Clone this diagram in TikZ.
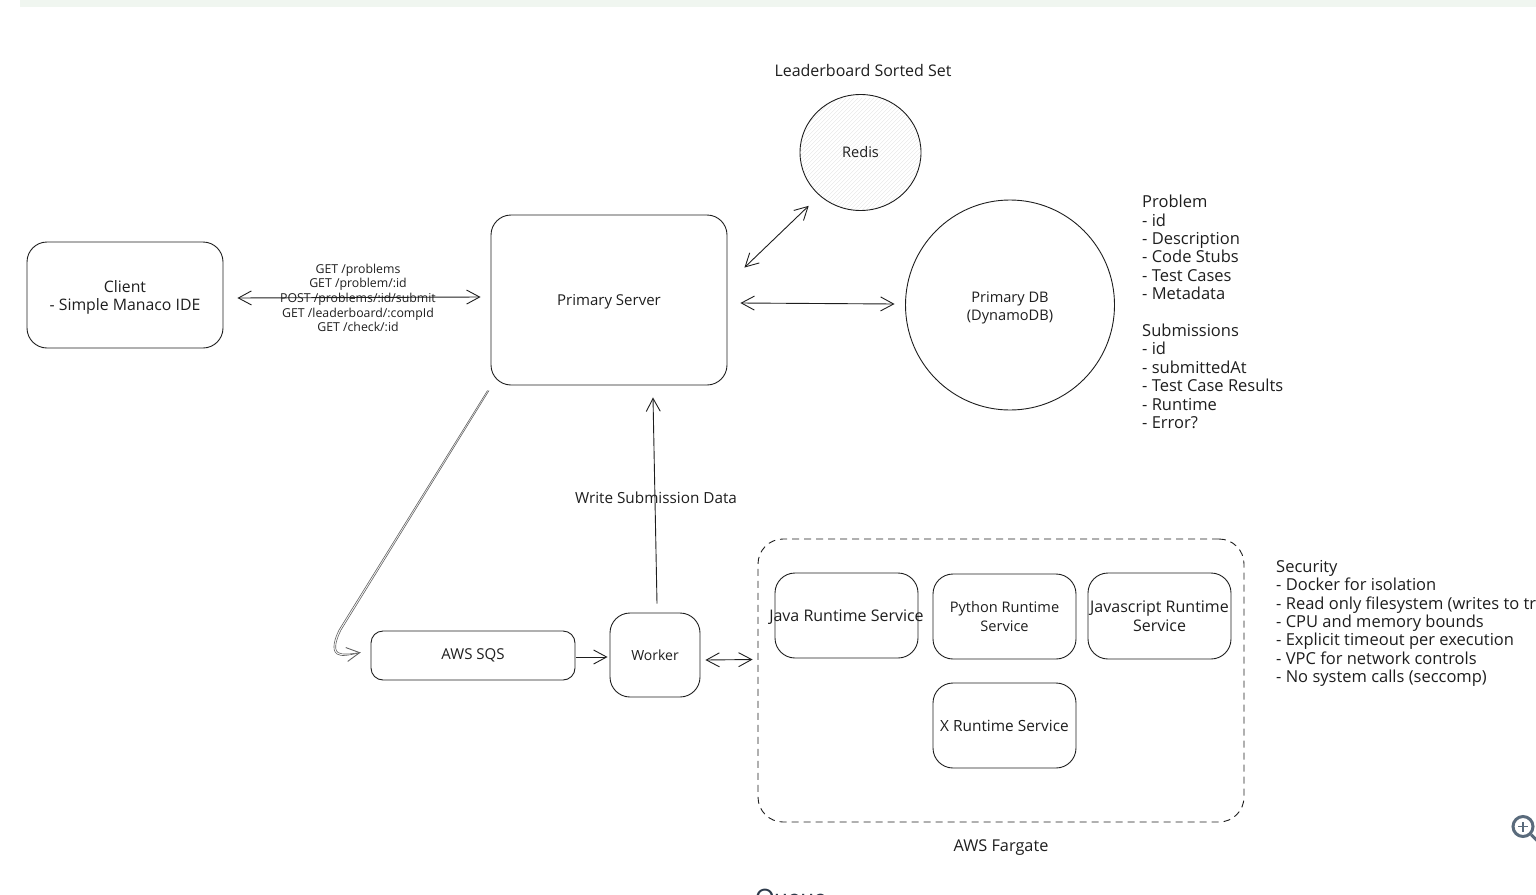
\documentclass[tikz,border=0pt]{standalone}
\usepackage{fontspec}
\setmainfont{Open Sans}
\newfontfamily\uifont{Lato}
\usetikzlibrary{arrows.meta,calc,shapes.geometric}
\definecolor{ink}{HTML}{1E1E1E}
\definecolor{strip}{HTML}{F0F6F0}
\definecolor{uiblue}{HTML}{5A6B7C}
\definecolor{uidark}{HTML}{2D3A4A}
\tikzset{
  fs/.style={font=\fontsize{#1}{18.4}\selectfont},
  base/.style={draw=ink,line width=.9pt,inner sep=0pt,text=ink,align=center,fs=14.6},
  sbox/.style={base,rectangle,rounded corners=20pt},
  smallbox/.style={base,rectangle,rounded corners=12pt},
  dashbox/.style={base,rectangle,rounded corners=25pt,dash pattern=on 7pt off 5pt},
  roundn/.style={base,ellipse},
  txt/.style={inner sep=0pt,text=ink,align=center,fs=16},
  notes/.style={inner sep=0pt,text=ink,align=left,anchor=north west,fs=16.5},
  conn/.style={draw=ink,line width=.9pt,{Straight Barb[length=13pt,width=14pt,line width=.9pt]}-{Straight Barb[length=13pt,width=14pt,line width=.9pt]}},
  conr/.style={draw=ink,line width=.9pt,-{Straight Barb[length=13pt,width=14pt,line width=.9pt]}},
}
\begin{document}
\begin{tikzpicture}[x=1pt,y=-1pt]
\useasboundingbox (0,0) rectangle (1536,894);
\fill[strip] (20,0) rectangle (1536,7);

\node[sbox,fs=15.8,minimum width=196pt,minimum height=106pt] (client) at (125,295) {\rule{0pt}{17pt}Client\\- Simple Manaco IDE};
\node[sbox,fs=15,minimum width=236pt,minimum height=170pt] (server) at (609,300) {\raisebox{-5.5pt}[0pt][0pt]{Primary Server}};
\node[roundn,minimum width=121pt,minimum height=116pt,
  path picture={\foreach \i in {-120,-116,...,120}{\draw[gray!22,line width=.4pt] (\i-60,60) -- (\i+60,-60);}}] (redis) at (860.5,152.5) {Redis};
\node[roundn,minimum width=209pt,minimum height=210pt] (db) at (1010,305) {\rule{0pt}{17pt}Primary DB\\(DynamoDB)};
\node[smallbox,fs=15,minimum width=204pt,minimum height=49pt] (sqs) at (473,655.5) {AWS SQS};
\node[sbox,fs=14,minimum width=90pt,minimum height=84pt] (worker) at (655,655) {Worker};
\node[dashbox,minimum width=486pt,minimum height=283pt] (fargate) at (1001,680.5) {};
\node[sbox,fs=16,minimum width=143pt,minimum height=85pt] (java) at (846.5,615.5) {\raisebox{-5.5pt}[0pt][0pt]{\makebox[0pt]{Java Runtime Service}}};
\node[sbox,minimum width=143pt,minimum height=85pt] (python) at (1004.5,616.5) {Python Runtime\\Service};
\node[sbox,fs=16,minimum width=143pt,minimum height=86pt] (js) at (1159.5,616) {Javascript Runtime\\Service};
\node[sbox,fs=15.4,minimum width=143pt,minimum height=85pt] (xrt) at (1004.5,725.5) {X Runtime Service};

\node[txt] (lbset) at (863,70.5) {Leaderboard Sorted Set};
\node[txt,fs=16.3] (fglabel) at (1001,848) {AWS Fargate};
\node[txt,fs=15.3] (wlabel) at (656,497.5) {Write Submission Data};
\node[txt,font=\fontsize{12.3}{14.6}\selectfont] (api) at (358,298) {GET /problems\\GET /problem/:id\\POST /problems/:id/submit\\GET /leaderboard/:compId\\GET /check/:id};
\node[notes] (problem) at (1142,195) {Problem\\- id\\- Description\\- Code Stubs\\- Test Cases\\- Metadata\\[18.4pt]Submissions\\- id\\- submittedAt\\- Test Case Results\\- Runtime\\- Error?};
\node[notes] (security) at (1276,560) {Security\\- Docker for isolation\\- Read only filesystem (writes to tr\\- CPU and memory bounds\\- Explicit timeout per execution\\- VPC for network controls\\- No system calls (seccomp)};
\node[inner sep=0pt,anchor=base,text=uidark,font=\uifont\fontsize{24}{28}\selectfont] (queue) at (791,906) {Queue};

\draw[conn] ([shift={(14pt,-3pt)}]client.east) -- ([shift={(-10pt,3pt)}]server.west);
\draw[conn] ([shift={(17pt,-53pt)}]server.north east) -- ([shift={(-8.7pt,-12pt)}]redis.south west);
\draw[conn] ([shift={(13pt,-3pt)}]server.east) -- ([shift={(-10.5pt,1pt)}]db.west);
\draw[conr] ([shift={(2pt,9pt)}]worker.north) -- ([shift={(44pt,-12pt)}]server.south);
\draw[conr] ([shift={(1pt,-1.5pt)}]sqs.east) -- ([shift={(-2pt,-2pt)}]worker.west);
\draw[conn] ([shift={(5pt,-5pt)}]worker.east) -- ([shift={(-5pt,21pt)}]fargate.west);
\draw[draw=ink!70,line width=.6pt] ([shift={(-3pt,-5pt)}]server.south west) -- (339,630) .. controls (335,638) and (331,650) .. (337,654) .. controls (341,657) and (350,655) .. ([shift={(-10pt,3pt)}]sqs.west);
\draw[conr,draw=ink!70,line width=.6pt] ([shift={(-1.5pt,-5pt)}]server.south west) -- (341,630) .. controls (337,638) and (333,649) .. (338,652.5) .. controls (342,655) and (350,654) .. ([shift={(-10pt,3pt)}]sqs.west);

% viewer zoom button
\node[circle,draw=uiblue,line width=3pt,minimum size=20pt,inner sep=0pt] (zoombtn) at (1523,826.5) {};
\draw[uiblue,line width=1.4pt] ([xshift=-5pt]zoombtn.center) -- ([xshift=5pt]zoombtn.center);
\draw[uiblue,line width=1.4pt] ([yshift=-5pt]zoombtn.center) -- ([yshift=5pt]zoombtn.center);
\draw[uiblue,line width=3pt] (zoombtn.south east) -- +(6,6);
\end{tikzpicture}
\end{document}
